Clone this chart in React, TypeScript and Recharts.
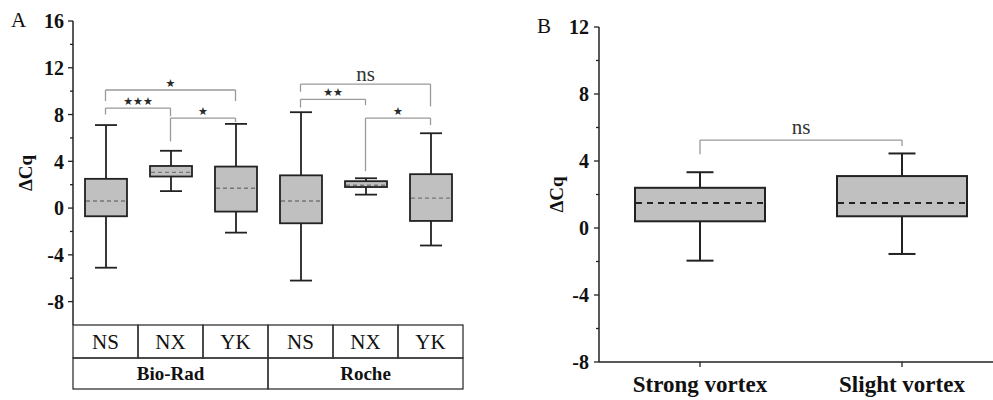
import React from 'react';
import { ComposedChart, Bar, XAxis, YAxis, ReferenceLine } from 'recharts';

// Panel A: ΔCq per kit and instrument
const groupsA = ['Bio-Rad', 'Roche'];
const kitsA = ['NS', 'NX', 'YK'];
const idsA = ['Bio-Rad NS', 'Bio-Rad NX', 'Bio-Rad YK', 'Roche NS', 'Roche NX', 'Roche YK'];
const minA = [-5.1, 1.45, -2.1, -6.2, 1.15, -3.2];
const q1A = [-0.7, 2.7, -0.3, -1.3, 1.8, -1.1];
const medA = [0.6, 3.05, 1.7, 0.6, 1.95, 0.85];
const q3A = [2.5, 3.6, 3.55, 2.8, 2.3, 2.9];
const maxA = [7.1, 4.9, 7.2, 8.2, 2.55, 6.4];
const ticksA = [-8, -6, -4, -2, 0, 2, 4, 6, 8, 10, 12, 14, 16];

// significance brackets, panel A
const bFromA = ['Bio-Rad NS', 'Bio-Rad NS', 'Bio-Rad NX', 'Roche NS', 'Roche NS', 'Roche NX'];
const bToA = ['Bio-Rad YK', 'Bio-Rad NX', 'Bio-Rad YK', 'Roche YK', 'Roche NX', 'Roche YK'];
const bYA = [10.1, 8.55, 7.7, 10.6, 9.3, 7.7];
const bLeftEndA = [9.15, 8.0, 5.7, 9.95, 8.6, 3.15];
const bRightEndA = [9.15, 7.85, 7.35, 8.7, 8.8, 7.1];
const bLabelA = ['★', '★★★', '★', 'ns', '★★', '★'];

// Panel B: vortex strength
const namesB = ['Strong vortex', 'Slight vortex'];
const minB = [-1.95, -1.55];
const q1B = [0.4, 0.7];
const medB = [1.5, 1.5];
const q3B = [2.4, 3.1];
const maxB = [3.33, 4.45];
const ticksB = [-8, -6, -4, -2, 0, 2, 4, 6, 8, 10, 12];

const bFromB = ['Strong vortex'];
const bToB = ['Slight vortex'];
const bYB = [5.25];
const bLeftEndB = [4.4];
const bRightEndB = [4.9];
const bLabelB = ['ns'];

const SERIF = '"Liberation Serif", "Times New Roman", serif';
const INK = '#222';

const dataA = idsA.map((id, i) => ({
  id,
  min: minA[i],
  q1: q1A[i],
  med: medA[i],
  q3: q3A[i],
  max: maxA[i],
  range: [minA[i], maxA[i]],
}));

const dataB = namesB.map((name, i) => ({
  name,
  min: minB[i],
  q1: q1B[i],
  med: medB[i],
  q3: q3B[i],
  max: maxB[i],
  range: [minB[i], maxB[i]],
}));

function BoxShape(props: any) {
  const { x, y, width, height, payload, capW, strokeW, medStroke, medDash, medW } = props;
  const top = Math.min(y, y + height);
  const bot = Math.max(y, y + height);
  const span = payload.max - payload.min;
  const yOf = (v: number) => bot - ((v - payload.min) / span) * (bot - top);
  const cx = x + width / 2;
  return (
    <g>
      <line x1={cx} x2={cx} y1={yOf(payload.max)} y2={yOf(payload.q3)} stroke={INK} strokeWidth={strokeW} />
      <line x1={cx} x2={cx} y1={yOf(payload.q1)} y2={yOf(payload.min)} stroke={INK} strokeWidth={strokeW} />
      <line x1={cx - capW / 2} x2={cx + capW / 2} y1={yOf(payload.max)} y2={yOf(payload.max)} stroke={INK} strokeWidth={strokeW} />
      <line x1={cx - capW / 2} x2={cx + capW / 2} y1={yOf(payload.min)} y2={yOf(payload.min)} stroke={INK} strokeWidth={strokeW} />
      <rect
        x={x}
        y={yOf(payload.q3)}
        width={width}
        height={yOf(payload.q1) - yOf(payload.q3)}
        fill="#c0c0c0"
        stroke={INK}
        strokeWidth={strokeW}
      />
      <line
        x1={x + 1}
        x2={x + width - 1}
        y1={yOf(payload.med)}
        y2={yOf(payload.med)}
        stroke={medStroke}
        strokeWidth={medW}
        strokeDasharray={medDash}
      />
    </g>
  );
}

function YTick(props: any) {
  const { x, y, payload, step, gap } = props;
  const v = payload.value;
  const major = v % step === 0;
  return (
    <g>
      <line x1={x - (major ? 5 : 3)} x2={x} y1={y} y2={y} stroke={INK} strokeWidth={1.3} />
      {major && (
        <text
          x={x - gap}
          y={y}
          dy="0.36em"
          textAnchor="end"
          fontFamily={SERIF}
          fontWeight={700}
          fontSize={20}
          fill="#111"
        >
          {String(v)}
        </text>
      )}
    </g>
  );
}

function TableTick(props: any) {
  const { x, y, payload } = props;
  const i = idsA.indexOf(payload.value);
  const cw = (props.width ?? 390) / idsA.length;
  const h1 = 33;
  const h2 = 31;
  return (
    <g>
      <rect x={x - cw / 2} y={y} width={cw} height={h1} fill="none" stroke="#333" strokeWidth={1.3} />
      <text x={x} y={y + h1 / 2} dy="0.36em" textAnchor="middle" fontFamily={SERIF} fontSize={21} fill="#111">
        {kitsA[i % 3]}
      </text>
      {i % 3 === 0 && (
        <g>
          <rect x={x - cw / 2} y={y + h1} width={cw * 3} height={h2} fill="none" stroke="#333" strokeWidth={1.3} />
          <text
            x={x + cw}
            y={y + h1 + h2 / 2}
            dy="0.36em"
            textAnchor="middle"
            fontFamily={SERIF}
            fontWeight={700}
            fontSize={19}
            fill="#111"
          >
            {groupsA[Math.floor(i / 3)]}
          </text>
        </g>
      )}
    </g>
  );
}

function axisTitle(dx: number) {
  return ({ viewBox }: any) => {
    const cx = viewBox.x + dx;
    const cy = viewBox.y + viewBox.height / 2;
    return (
      <text
        x={cx}
        y={cy}
        transform={`rotate(-90 ${cx} ${cy})`}
        textAnchor="middle"
        dy="0.36em"
        fontFamily={SERIF}
        fontWeight={700}
        fontSize={19}
        fill="#111"
      >
        ΔCq
      </text>
    );
  };
}

function brackets(from: string[], to: string[], ys: number[], lEnd: number[], rEnd: number[], labels: string[], nsOffset: number) {
  const out: React.ReactNode[] = [];
  from.forEach((f, i) => {
    const isNs = labels[i] === 'ns';
    const lab = isNs
      ? { value: labels[i], position: 'top' as const, offset: nsOffset, fill: '#333', fontSize: 21, fontFamily: SERIF }
      : { value: labels[i], position: 'top' as const, offset: 3, fill: '#2a2a2a', fontSize: 11, fontFamily: '"DejaVu Sans", sans-serif' };
    out.push(
      <ReferenceLine
        key={`h${i}`}
        segment={[{ x: f, y: ys[i] }, { x: to[i], y: ys[i] }]}
        stroke="#9a9a9a"
        strokeWidth={1.3}
        ifOverflow="visible"
        label={lab}
      />,
      <ReferenceLine
        key={`l${i}`}
        segment={[{ x: f, y: ys[i] }, { x: f, y: lEnd[i] }]}
        stroke="#9a9a9a"
        strokeWidth={1.3}
        ifOverflow="visible"
      />,
      <ReferenceLine
        key={`r${i}`}
        segment={[{ x: to[i], y: ys[i] }, { x: to[i], y: rEnd[i] }]}
        stroke="#9a9a9a"
        strokeWidth={1.3}
        ifOverflow="visible"
      />
    );
  });
  return out;
}

export default function App() {
  return (
    <div style={{ position: 'absolute', left: 0, top: 0, width: 993, height: 400, overflow: 'hidden', background: '#fff' }}>
      <div style={{ position: 'absolute', left: 0, top: 0 }}>
        <ComposedChart width={480} height={400} data={dataA} margin={{ top: 21, right: 17, left: 13, bottom: 10 }}>
          <XAxis
            dataKey="id"
            type="category"
            interval={0}
            height={65}
            axisLine={false}
            tickLine={false}
            tickSize={0}
            tickMargin={0}
            tick={<TableTick />}
          />
          <YAxis
            type="number"
            domain={[-10, 16]}
            ticks={ticksA}
            interval={0}
            width={60}
            axisLine={{ stroke: INK, strokeWidth: 1.5 }}
            tickLine={false}
            tickSize={0}
            tickMargin={0}
            tick={<YTick step={4} gap={9} />}
            label={{ content: axisTitle(12) }}
          />
          <Bar
            dataKey="range"
            barSize={42}
            isAnimationActive={false}
            shape={(p: any) => (
              <BoxShape {...p} capW={22} strokeW={1.8} medStroke="#777" medDash="4 3" medW={1.4} />
            )}
          />
          {brackets(bFromA, bToA, bYA, bLeftEndA, bRightEndA, bLabelA, 3)}
        </ComposedChart>
      </div>
      <div style={{ position: 'absolute', left: 520, top: 0 }}>
        <ComposedChart width={500} height={400} data={dataB} margin={{ top: 27, right: 17, left: 0, bottom: 0 }}>
          <XAxis
            dataKey="name"
            type="category"
            interval={0}
            height={38}
            axisLine={{ stroke: INK, strokeWidth: 1.5 }}
            tickLine={{ stroke: INK, strokeWidth: 1.3 }}
            tickSize={5}
            tickMargin={9}
            tick={{ fill: '#111', fontSize: 23, fontWeight: 700, fontFamily: SERIF }}
          />
          <YAxis
            type="number"
            domain={[-8, 12]}
            ticks={ticksB}
            interval={0}
            width={79}
            axisLine={{ stroke: INK, strokeWidth: 1.5 }}
            tickLine={false}
            tickSize={0}
            tickMargin={0}
            tick={<YTick step={4} gap={10} />}
            label={{ content: axisTitle(36) }}
          />
          <Bar
            dataKey="range"
            barSize={130}
            isAnimationActive={false}
            shape={(p: any) => (
              <BoxShape {...p} capW={27} strokeW={2} medStroke={INK} medDash="6 5" medW={2} />
            )}
          />
          {brackets(bFromB, bToB, bYB, bLeftEndB, bRightEndB, bLabelB, 6)}
        </ComposedChart>
      </div>
      <svg width={993} height={400} style={{ position: 'absolute', left: 0, top: 0, pointerEvents: 'none' }}>
        <text x={11} y={27} fontFamily={SERIF} fontSize={21} fill="#111">A</text>
        <text x={537} y={33} fontFamily={SERIF} fontSize={21} fill="#111">B</text>
      </svg>
    </div>
  );
}
